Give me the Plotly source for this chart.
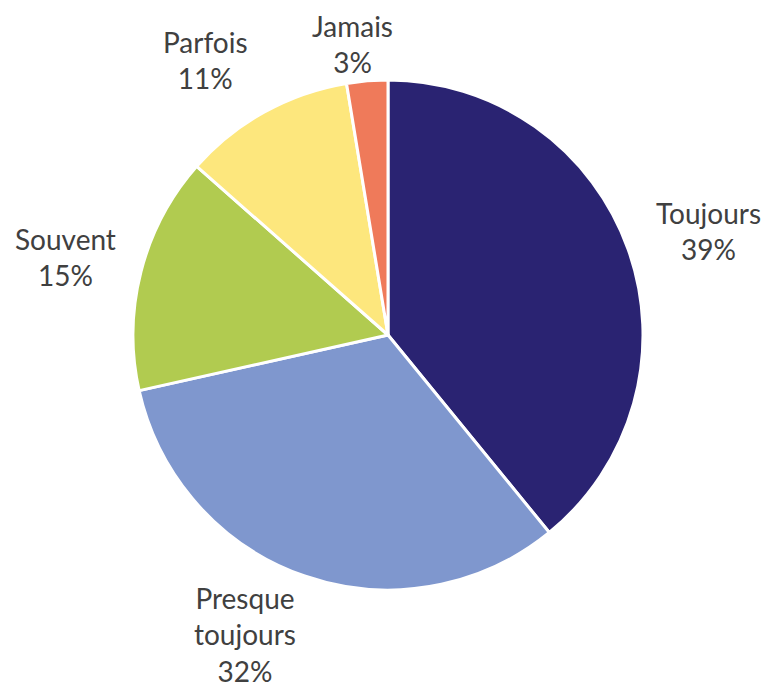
import plotly.graph_objects as go

# ---------- data ----------
labels = ["Toujours", "Presque toujours", "Souvent", "Parfois", "Jamais"]
values = [39.1, 32.4, 15.0, 10.9, 2.6]
colors = ["#2a2372", "#7f97ce", "#b1cb50", "#fde77d", "#ef7a5a"]

# label text shown beside each slice (line breaks as in the original)
label_text = ["Toujours", "Presque<br>toujours", "Souvent", "Parfois", "Jamais"]
# centre of each label block, in pixels of the 770x688 window
label_pos = [(708, 231), (245, 634), (65, 257), (205, 60), (352, 44)]

# the page body has an 8px margin, so the figure starts at (8, 8)
OFF = 8
W, H = 770 - OFF, 688 - OFF
cx, cy, r = 388 - OFF, 335 - OFF, 255

fig = go.Figure(
    go.Pie(
        labels=labels,
        values=values,
        sort=False,
        direction="clockwise",
        rotation=0,
        marker=dict(colors=colors, line=dict(color="white", width=3)),
        textinfo="none",
        showlegend=False,
        hoverinfo="label+percent",
        domain=dict(
            x=[(cx - r) / W, (cx + r) / W],
            y=[(H - cy - r) / H, (H - cy + r) / H],
        ),
    )
)

total = sum(values)
for txt, v, (px_, py_) in zip(label_text, values, label_pos):
    fig.add_annotation(
        x=(px_ - OFF) / W,
        y=1 - (py_ - OFF) / H,
        xref="paper",
        yref="paper",
        xanchor="center",
        yanchor="middle",
        text=f"{txt}<br>{round(100 * v / total)}%",
        showarrow=False,
        borderpad=0,
        font=dict(family="Lato", size=28, color="#404040"),
    )

fig.update_layout(
    width=W,
    height=H,
    margin=dict(t=0, b=0, l=0, r=0),
    paper_bgcolor="white",
    plot_bgcolor="white",
)

fig.write_html("out.html")
